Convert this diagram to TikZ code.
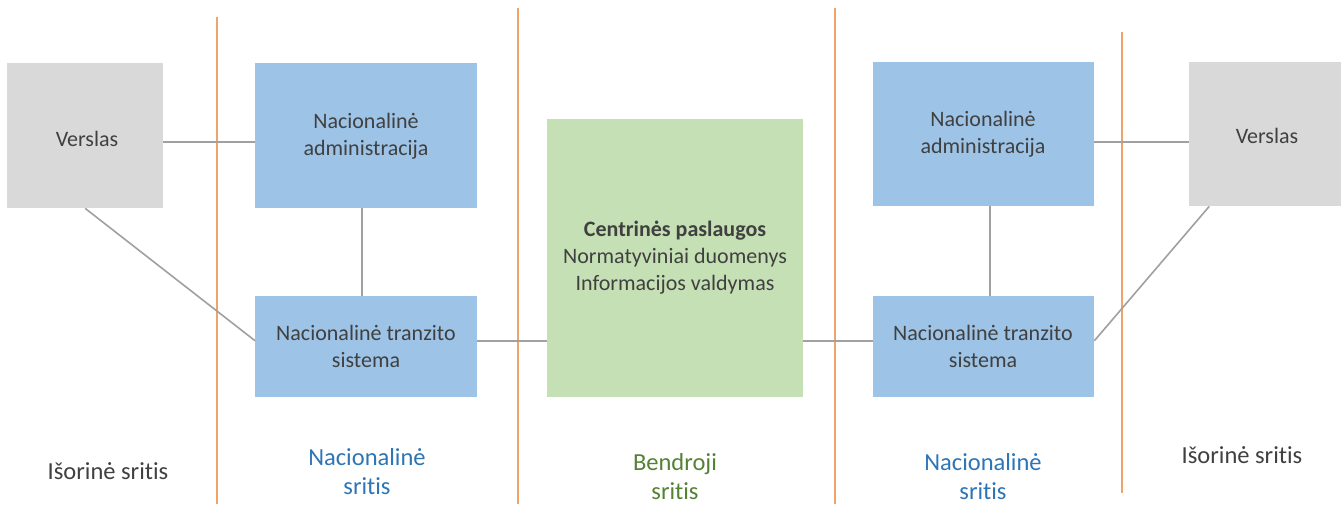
\documentclass[tikz,border=0pt]{standalone}
\usepackage{fontspec}
\setmainfont{Carlito}[Ligatures=NoCommon]
\definecolor{boxgrey}{HTML}{D9D9D9}
\definecolor{boxblue}{HTML}{9DC3E6}
\definecolor{boxgreen}{HTML}{C5E0B4}
\definecolor{sepline}{HTML}{F0A46C}
\definecolor{txt}{HTML}{404040}
\definecolor{conn}{HTML}{A0A0A0}
\definecolor{natblue}{HTML}{2E75B6}
\definecolor{comgreen}{HTML}{548235}
\begin{document}
\begin{tikzpicture}[x=1pt,y=-1pt,
  box/.style={rectangle,inner sep=0pt,anchor=north west},
  greybox/.style={box,fill=boxgrey},
  bluebox/.style={box,fill=boxblue},
  greenbox/.style={box,fill=boxgreen},
  boxtext/.style={text=txt,align=center,font=\fontsize{22}{27}\selectfont},
  link/.style={draw=conn,line width=1.6pt},
  sep/.style={draw=sepline,line width=1.8pt},
  area/.style={align=center,font=\fontsize{24.5}{29}\selectfont}
]
\useasboundingbox (0,0) rectangle (1341,504);
\fill[white] (0,0) rectangle (1341,504);
% separators
\draw[sep] (217,17) -- (217,504);
\draw[sep] (518,8) -- (518,504);
\draw[sep] (835,8) -- (835,504);
\draw[sep] (1122,32) -- (1122,493);
% boxes
\node[greybox,minimum width=156pt,minimum height=145pt] (vl) at (7,63) {};
\node[boxtext] (vlt) at (87,139) {Verslas};
\node[bluebox,minimum width=222pt,minimum height=145pt] (adl) at (255,63) {};
\node[boxtext] (adlt) at (366,136) {Nacionalinė\\administracija};
\node[bluebox,minimum width=222pt,minimum height=101pt] (trl) at (255,296) {};
\node[boxtext] (trlt) at (366,346) {Nacionalinė tranzito\\sistema};
\node[greenbox,minimum width=256pt,minimum height=278pt] (gr) at (547,119) {};
\node[boxtext] (grt) at (675,258) {\textbf{Centrinės paslaugos}\\Normatyviniai duomenys\\Informacijos valdymas};
\node[bluebox,minimum width=221pt,minimum height=144pt] (adr) at (873,62) {};
\node[boxtext] (adrt) at (983,134) {Nacionalinė\\administracija};
\node[bluebox,minimum width=221pt,minimum height=101pt] (trr) at (873,296) {};
\node[boxtext] (trrt) at (983,346) {Nacionalinė tranzito\\sistema};
\node[greybox,minimum width=152pt,minimum height=144pt] (vr) at (1189,62) {};
\node[boxtext] (vrt) at (1267,136) {Verslas};
% connectors
\draw[link] ([yshift=-6pt]vl.east) -- ([yshift=-6pt]vl.east -| adl.west);
\draw[link] ([xshift=-4pt]adl.south) -- ([xshift=-4pt]trl.north);
\draw[link] (vl.south) -- ([yshift=6pt]trl.west);
\draw[link] ([yshift=6pt]trl.east) -- ([yshift=6pt]trl.east -| gr.west);
\draw[link] ([yshift=6pt]trr.west -| gr.east) -- ([yshift=6pt]trr.west);
\draw[link] ([xshift=6pt]adr.south) -- ([xshift=6pt]trr.north);
\draw[link] ([yshift=-8pt]adr.east) -- ([yshift=-8pt]adr.east -| vr.west);
\draw[link] ([xshift=-56pt]vr.south) -- ([yshift=6pt]trr.east);
% area labels
\node[area,text=txt] (a1) at (108,471) {Išorinė sritis};
\node[area,text=natblue] (a2) at (367,472) {Nacionalinė\\sritis};
\node[area,text=comgreen] (a3) at (675,477) {Bendroji\\sritis};
\node[area,text=natblue] (a4) at (983,477) {Nacionalinė\\sritis};
\node[area,text=txt] (a5) at (1242,455) {Išorinė sritis};
\end{tikzpicture}
\end{document}
